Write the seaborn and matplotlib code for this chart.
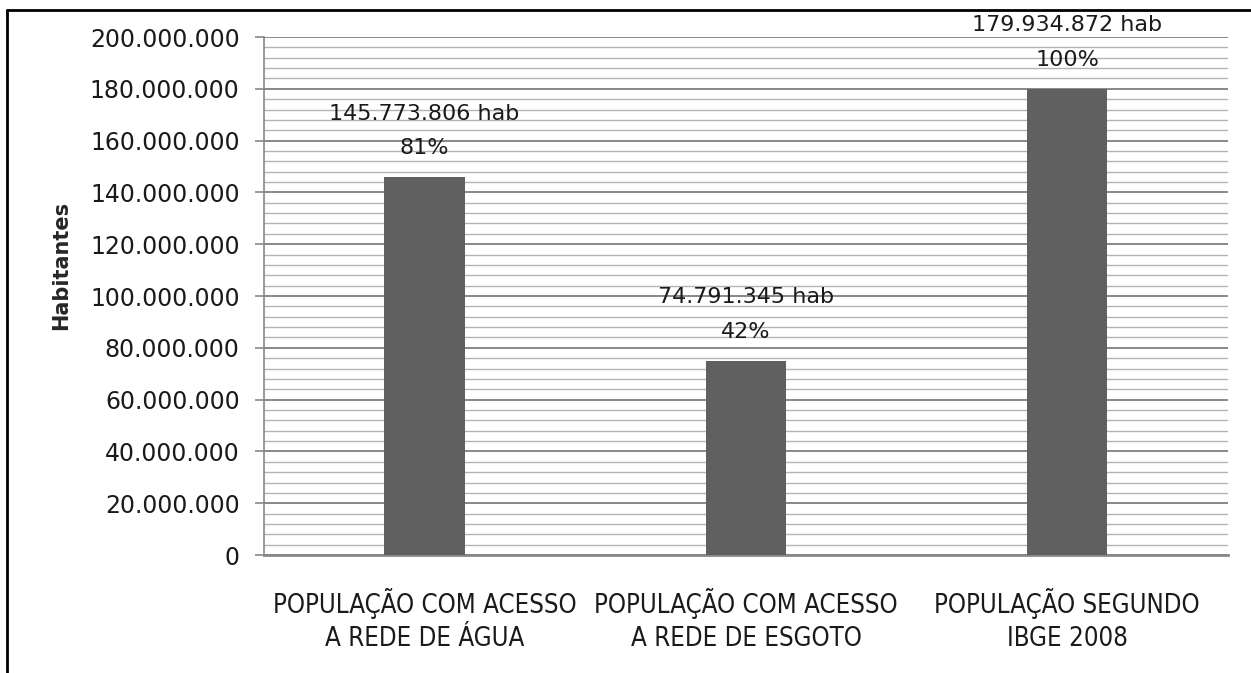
import matplotlib
matplotlib.use("Agg")
import matplotlib.pyplot as plt
from matplotlib.lines import Line2D
from matplotlib.ticker import MultipleLocator, FuncFormatter
import seaborn as sns
import pandas as pd

categorias = [
    "POPULAÇÃO COM ACESSO\nA REDE DE ÁGUA",
    "POPULAÇÃO COM ACESSO\nA REDE DE ESGOTO",
    "POPULAÇÃO SEGUNDO\nIBGE 2008",
]
habitantes = [145773806, 74791345, 179934872]
percentuais = ["81%", "42%", "100%"]

sns.set_theme(style="white")
plt.rcParams["font.family"] = ["DejaVu Sans"]

df = pd.DataFrame({"categoria": categorias, "habitantes": habitantes})

fig = plt.figure(figsize=(12.51, 6.73), dpi=100)
ax = fig.add_axes([0.211, 0.1753, 0.7706, 0.7697])

sns.barplot(data=df, x="categoria", y="habitantes", color="#606060",
            saturation=1, width=0.25, linewidth=0, ax=ax, zorder=3)

ax.set_xlim(-0.5, 2.5)
ax.set_ylim(0, 200_000_000)
ax.yaxis.set_major_locator(MultipleLocator(20_000_000))
ax.yaxis.set_minor_locator(MultipleLocator(4_000_000))
ax.yaxis.set_major_formatter(
    FuncFormatter(lambda v, _: f"{int(v):,}".replace(",", ".")))

ax.grid(axis="y", which="minor", color="#b4b4b4", lw=1.0, zorder=0)
ax.grid(axis="y", which="major", color="#888888", lw=1.4, zorder=1)
ax.set_axisbelow(True)

for side in ("top", "right"):
    ax.spines[side].set_visible(False)
ax.spines["left"].set_color("#888888")
ax.spines["left"].set_linewidth(1.2)
ax.spines["bottom"].set_color("#888888")
ax.spines["bottom"].set_linewidth(2.0)

ax.tick_params(axis="y", which="major", direction="out", length=6.5,
               width=1.2, color="#888888", pad=11, labelsize=17,
               labelcolor="#1a1a1a", left=True)
ax.tick_params(axis="y", which="minor", length=0)
ax.tick_params(axis="x", length=0, pad=24, labelsize=18.5, labelcolor="#1a1a1a")
for lbl in ax.get_xticklabels():
    lbl.set_linespacing(1.35)
    lbl.set_fontstretch("condensed")

ax.set_xlabel("")
ax.set_ylabel("Habitantes", fontsize=15, fontweight="bold")
ax.yaxis.set_label_coords(-0.2, 0.56)

for i, (v, p) in enumerate(zip(habitantes, percentuais)):
    txt = f"{v:,} hab".replace(",", ".") + f"\n{p}"
    ax.annotate(txt, xy=(i, v), xytext=(0, 14), textcoords="offset points",
                ha="center", va="bottom", fontsize=16, color="#1a1a1a",
                linespacing=1.9, zorder=5, annotation_clip=False)

# frame lines along the top and left edges of the figure
fig.add_artist(Line2D([7 / 1251, 7 / 1251], [0, 1 - 10 / 673],
                      transform=fig.transFigure, color="black", lw=2))
fig.add_artist(Line2D([7 / 1251, 1], [1 - 10 / 673, 1 - 10 / 673],
                      transform=fig.transFigure, color="black", lw=2))

fig.savefig("out.png", dpi=100)
